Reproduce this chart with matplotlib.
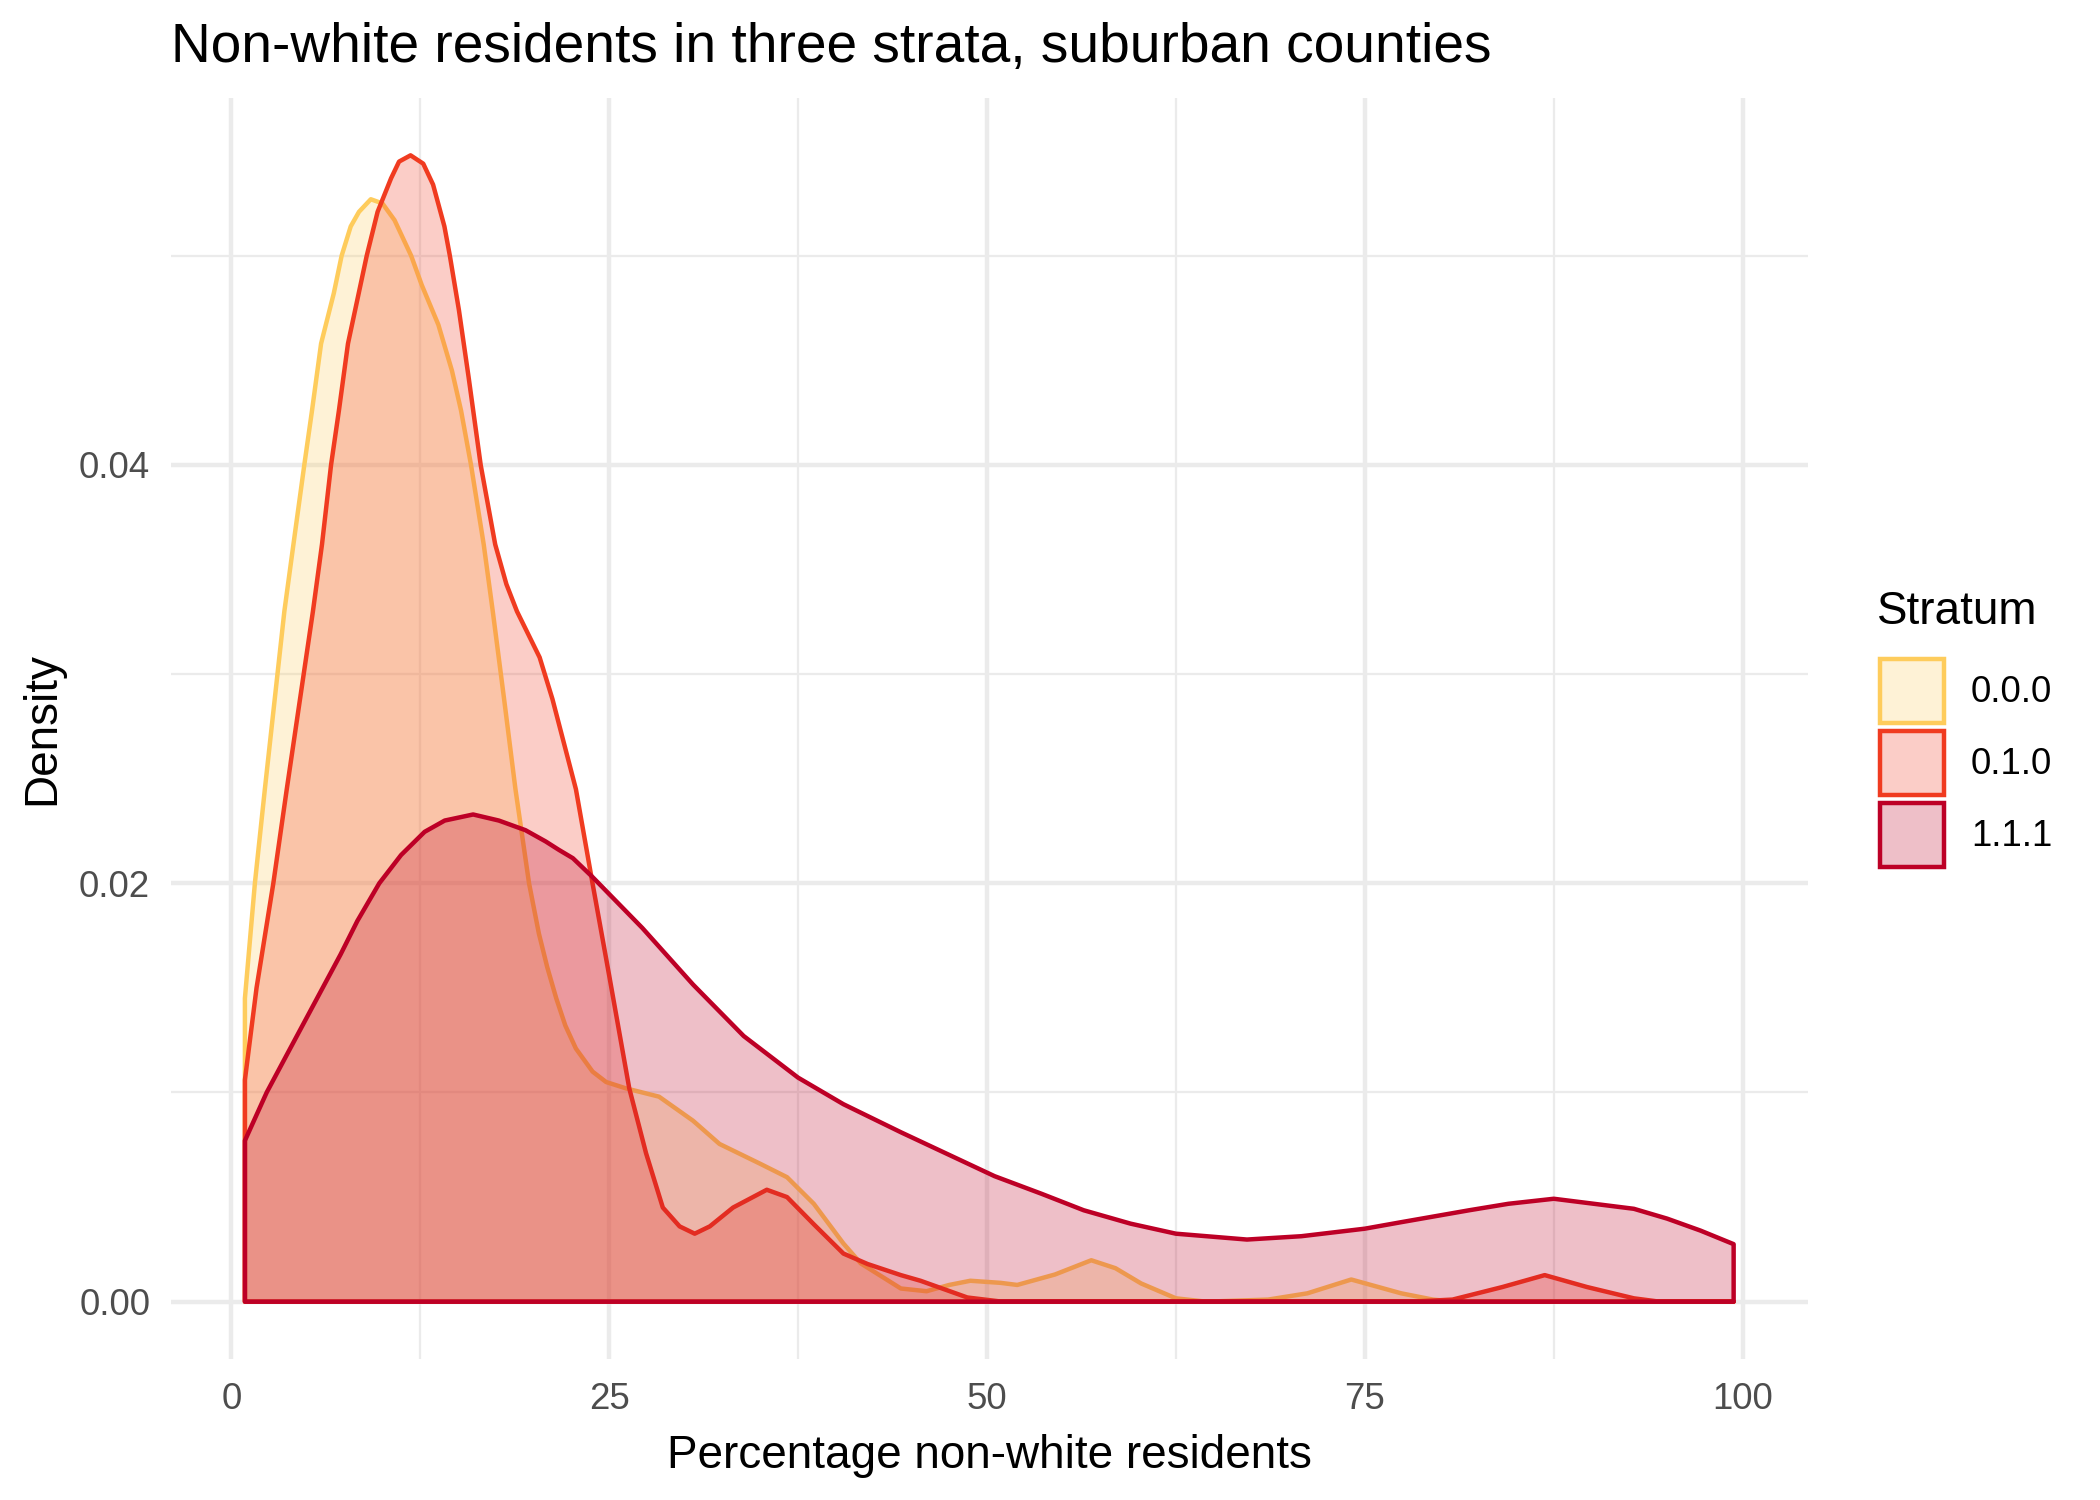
import matplotlib
matplotlib.use("Agg")
import matplotlib.pyplot as plt
from matplotlib.colors import to_rgba
from matplotlib.patches import Rectangle

plt.rcParams['font.family'] = ['Liberation Sans', 'DejaVu Sans']

# ------------------------
# Data (density curves)
# ------------------------
strata = ["0.0.0", "0.1.0", "1.1.1"]
colores = ["#FECC5C", "#F03B20", "#BD0026"]

x_000 = [0.9, 1.56, 2.22, 3.51, 4.11, 4.83, 5.34, 5.94, 6.78, 7.3, 7.9, 8.45, 9.23,
         10.0, 10.8, 11.9, 12.6, 13.7, 14.6, 15.2, 15.86, 16.7, 17.3, 18.05, 18.8,
         19.7, 20.35, 20.9, 21.5, 22.1, 22.8, 23.9, 24.8, 26.1, 28.3, 30.55, 32.3,
         35.0, 36.77, 38.54, 40.5, 41.65, 44.3, 46.0, 47.5, 48.9, 50.9, 52.0, 54.5,
         56.9, 58.5, 60.2, 62.5, 64.5, 68.6, 71.2, 74.1, 77.4, 79.5, 81.0, 90.0, 99.4]
y_000 = [0.0145, 0.0200, 0.0245, 0.0330, 0.0362, 0.0400, 0.0426, 0.0458, 0.0482,
         0.0500, 0.0514, 0.0521, 0.0527, 0.0525, 0.0517, 0.0500, 0.0486, 0.0467,
         0.0445, 0.0426, 0.0400, 0.0362, 0.0330, 0.0288, 0.0245, 0.0200, 0.0176,
         0.0160, 0.0145, 0.0132, 0.0121, 0.0110, 0.0105, 0.0102, 0.0098, 0.00865,
         0.00754, 0.00659, 0.00595, 0.00468, 0.00278, 0.00183, 0.00063, 0.0005,
         0.0008, 0.0010, 0.0009, 0.0008, 0.0013, 0.00198, 0.0016, 0.00087, 0.00016,
         0.0, 0.0001, 0.0004, 0.00106, 0.0004, 0.0001, 0.0, 0.0, 0.0]

x_010 = [0.9, 1.67, 2.78, 3.67, 5.4, 6.0, 6.6, 7.12, 7.72, 8.96, 9.68, 10.57, 11.1,
         11.86, 12.7, 13.35, 14.1, 14.46, 15.06, 15.7, 16.5, 17.46, 18.2, 18.9,
         20.4, 21.25, 22.8, 23.9, 25.0, 26.33, 27.44, 28.55, 29.66, 30.66, 31.66,
         33.2, 35.43, 36.77, 38.54, 40.5, 42.1, 44.3, 45.6, 48.7, 51.0, 78.0, 80.8,
         84.1, 86.9, 89.7, 92.8, 94.5, 99.4]
y_010 = [0.0106, 0.0150, 0.0200, 0.0245, 0.0330, 0.0362, 0.0400, 0.0426, 0.0458,
         0.0500, 0.0521, 0.0537, 0.0545, 0.0548, 0.0544, 0.0534, 0.0514, 0.0500,
         0.0474, 0.0442, 0.0400, 0.0362, 0.0343, 0.0330, 0.0308, 0.0288, 0.0245,
         0.0200, 0.0156, 0.0102, 0.0071, 0.0045, 0.0036, 0.00325, 0.0036, 0.0045,
         0.00535, 0.0050, 0.0037, 0.0023, 0.0018, 0.00127, 0.0010, 0.0002, 0.0,
         0.0, 0.0001, 0.0007, 0.00127, 0.0007, 0.00016, 0.0, 0.0]

x_111 = [0.9, 2.34, 3.67, 5.45, 7.23, 8.34, 9.79, 11.23, 12.79, 14.12, 16.0, 17.7,
         19.46, 20.8, 21.67, 22.6, 23.9, 27.2, 30.55, 33.9, 37.5, 40.5, 44.3, 50.5,
         53.6, 56.4, 59.5, 62.5, 67.2, 70.8, 75.0, 77.4, 81.9, 84.5, 87.5, 92.8,
         95.0, 97.2, 99.4]
y_111 = [0.0077, 0.0100, 0.0118, 0.0142, 0.0166, 0.0182, 0.0200, 0.02135, 0.02246,
         0.0230, 0.02329, 0.0230, 0.02254, 0.0220, 0.0216, 0.0212, 0.0203, 0.01786,
         0.01516, 0.0127, 0.01071, 0.00944, 0.0081, 0.0060, 0.00516, 0.00437,
         0.00373, 0.00325, 0.00297, 0.00313, 0.00349, 0.0038, 0.00437, 0.00468,
         0.00492, 0.00444, 0.00397, 0.0034, 0.00275]

series_x = [x_000, x_010, x_111]
series_y = [y_000, y_010, y_111]

x_ticks = [0, 25, 50, 75, 100]
y_ticks = [0.00, 0.02, 0.04]

W, H = 2100, 1500

# ------------------------
# Figure
# ------------------------
fig = plt.figure(figsize=(7, 5), dpi=300)
ax = fig.add_axes([171 / W, 1 - 1359 / H, (1808 - 171) / W, (1359 - 98) / H])

for xs, ys, col in zip(series_x, series_y, colores):
    px = [xs[0]] + xs + [xs[-1]]
    py = [0.0] + ys + [0.0]
    ax.fill(px, py, facecolor=to_rgba(col, 0.25), edgecolor=col, linewidth=1.07,
            joinstyle='round', closed=True, zorder=3)

ax.set_xlim(-3.99, 104.32)
ax.set_ylim(-0.00274, 0.05754)
ax.set_xticks(x_ticks)
ax.set_xticklabels([str(v) for v in x_ticks])
ax.set_yticks(y_ticks)
ax.set_yticklabels([f"{v:.2f}" for v in y_ticks])
ax.set_xticks([12.5, 37.5, 62.5, 87.5], minor=True)
ax.set_yticks([0.01, 0.03, 0.05], minor=True)

ax.grid(True, which='major', color='#EBEBEB', linewidth=1.07, zorder=0)
ax.grid(True, which='minor', color='#EBEBEB', linewidth=0.53, zorder=0)
ax.set_axisbelow(True)
for s in ax.spines.values():
    s.set_visible(False)
ax.tick_params(which='both', length=0, labelsize=8.8, labelcolor='#4D4D4D')
ax.tick_params(axis='x', pad=5.5)
ax.tick_params(axis='y', pad=5)

ax.set_xlabel("Percentage non-white residents", fontsize=11, labelpad=4)
ax.set_ylabel("Density", fontsize=11, labelpad=3.5)

fig.text(171 / W, 1 - 48 / H, "Non-white residents in three strata, suburban counties",
         fontsize=13.2, ha='left', va='center')

# ------------------------
# Leyenda dibujada a mano
# ------------------------
fig.text(1877 / W, 1 - 612 / H, "Stratum", fontsize=11, ha='left', va='center')
tops = [659, 731, 803]
for top, col, lab in zip(tops, colores, strata):
    fig.add_artist(Rectangle((1880 / W, 1 - (top + 64) / H), 64 / W, 64 / H,
                             transform=fig.transFigure, facecolor=to_rgba(col, 0.25),
                             edgecolor=col, linewidth=1.07))
    fig.text(1971 / W, 1 - (top + 33) / H, lab, fontsize=8.8, ha='left', va='center')

fig.savefig("out.png", dpi=300)
